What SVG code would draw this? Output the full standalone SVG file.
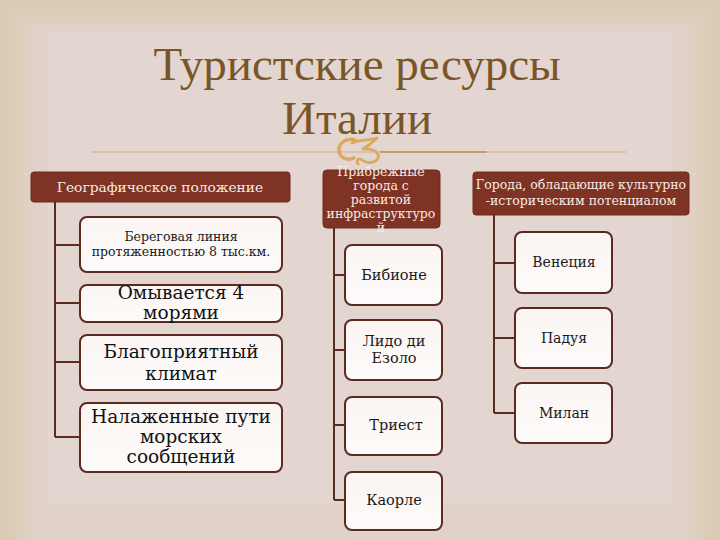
<svg xmlns="http://www.w3.org/2000/svg" width="720" height="540" viewBox="0 0 720 540">
<defs>
<linearGradient id="box" x1="0" y1="0" x2="0" y2="1">
<stop offset="0" stop-color="#fbf5f3"/><stop offset="1" stop-color="#fdfbfa"/>
</linearGradient>
<style>
.hdr{fill:#7f3324;stroke:#6e2b1f;stroke-width:1}
.hdrt{font-family:"DejaVu Serif","Liberation Serif",serif;fill:#f6ebe3;text-anchor:middle}
.child{fill:url(#box);stroke:#5b2a20;stroke-width:2}
.ct{font-family:"DejaVu Serif","Liberation Serif",serif;fill:#1a1a1a;text-anchor:middle}
.big{font-family:"DejaVu Serif","Liberation Serif",serif;fill:#111;text-anchor:middle;font-size:18.5px}
.conn{stroke:#5b2a20;stroke-width:2;fill:none}
.title{font-family:"Liberation Serif",serif;fill:#7a5528;text-anchor:middle;font-size:47px}
.orn{fill:none;stroke:#dba95e;stroke-linecap:round;stroke-linejoin:round}
</style>
</defs>
<rect width="720" height="540" fill="#dacab4"/>
<rect x="8" y="8" width="704" height="532" fill="#dccbb7"/>
<rect x="16" y="16" width="688" height="524" fill="#ddcdbb"/>
<rect x="24" y="24" width="672" height="516" fill="#dfd0c3"/>
<rect x="32" y="24" width="656" height="516" fill="#e0d2c8"/>
<rect x="48" y="32" width="624" height="471" fill="#e3d5cf"/>
<g id="title">
<text class="title" x="357" y="80">Туристские ресурсы</text>
<text class="title" x="357" y="134">Италии</text>
<line x1="92" y1="152" x2="626" y2="152" stroke="#cfae86" stroke-width="1.2"/>
<line x1="380" y1="152" x2="487" y2="152" stroke="#c79a66" stroke-width="2"/>
<path class="orn" stroke-width="3.4" d="M355 140 C346 137 338 144 339 151 C340 158 347 161 354 158"/>
<path class="orn" stroke-width="2.8" d="M352 143 C357 140 366 141 377 138 C373 142 368 146 363 149 C372 148 380 152 378 158 C376 163 367 164 362 160 C358 157 356 161 358 164"/>
</g>
<g id="connectors">
<path class="conn" d="M55 202 V437 M55 245 H80 M55 303 H80 M55 362 H80 M55 437 H80"/>
<path class="conn" d="M334 228 V500 M334 275 H345 M334 350 H345 M334 425 H345 M334 500 H345"/>
<path class="conn" d="M494 215 V413 M494 263 H515 M494 338 H515 M494 413 H515"/>
</g>
<g id="geo">
<rect class="hdr" x="31" y="172" width="259" height="30" rx="3"/>
<text class="hdrt" x="160" y="192" font-size="13.8">Географическое положение</text>
</g>
<g id="coast">
<rect class="child" x="80" y="217" width="202" height="55" rx="7"/>
<text class="ct" x="181" y="241" font-size="12.5">Береговая линия</text>
<text class="ct" x="181" y="256" font-size="12.5">протяженностью 8 тыс.км.</text>
</g>
<g id="seas">
<rect class="child" x="80" y="285" width="202" height="37" rx="7"/>
<text class="big" x="181" y="299" font-size="17.5">Омывается 4</text>
<text class="big" x="181" y="319" font-size="17.5">морями</text>
</g>
<g id="climate">
<rect class="child" x="80" y="335" width="202" height="55" rx="7"/>
<text class="big" x="181" y="358">Благоприятный</text>
<text class="big" x="181" y="380">климат</text>
</g>
<g id="routes">
<rect class="child" x="80" y="403" width="202" height="69" rx="7"/>
<text class="big" x="181" y="423">Налаженные пути</text>
<text class="big" x="181" y="443">морских</text>
<text class="big" x="181" y="463">сообщений</text>
</g>
<g id="coastal">
<rect class="hdr" x="323" y="170" width="117" height="58" rx="4"/>
<text class="hdrt" font-size="12.5"><tspan x="381" y="176">Прибрежные</tspan><tspan x="381" y="190">города с</tspan><tspan x="381" y="204">развитой</tspan><tspan x="381" y="218">инфраструктуро</tspan><tspan x="381" y="232">й</tspan></text>
</g>
<g id="bibione">
<rect class="child" x="345" y="245" width="97" height="60" rx="7"/>
<text class="ct" x="394" y="280" font-size="14.5">Бибионе</text>
</g>
<g id="lido">
<rect class="child" x="345" y="320" width="97" height="60" rx="7"/>
<text class="ct" x="394" y="346" font-size="14.5">Лидо ди</text>
<text class="ct" x="394" y="363" font-size="14.5">Езоло</text>
</g>
<g id="trieste">
<rect class="child" x="345" y="397" width="97" height="58" rx="7"/>
<text class="ct" x="396" y="430" font-size="14.5">Триест</text>
</g>
<g id="caorle">
<rect class="child" x="345" y="472" width="97" height="58" rx="7"/>
<text class="ct" x="394" y="505" font-size="14.5">Каорле</text>
</g>
<g id="cultural">
<rect class="hdr" x="473" y="172" width="216" height="43" rx="3"/>
<text class="hdrt" x="581" y="189" font-size="12.5">Города, обладающие культурно</text>
<text class="hdrt" x="581" y="205" font-size="12.5">-историческим потенциалом</text>
</g>
<g id="venice">
<rect class="child" x="515" y="232" width="97" height="61" rx="7"/>
<text class="ct" x="564" y="267" font-size="14">Венеция</text>
</g>
<g id="padua">
<rect class="child" x="515" y="308" width="97" height="60" rx="7"/>
<text class="ct" x="564" y="343" font-size="14">Падуя</text>
</g>
<g id="milan">
<rect class="child" x="515" y="383" width="97" height="60" rx="7"/>
<text class="ct" x="564" y="418" font-size="14">Милан</text>
</g>
</svg>
